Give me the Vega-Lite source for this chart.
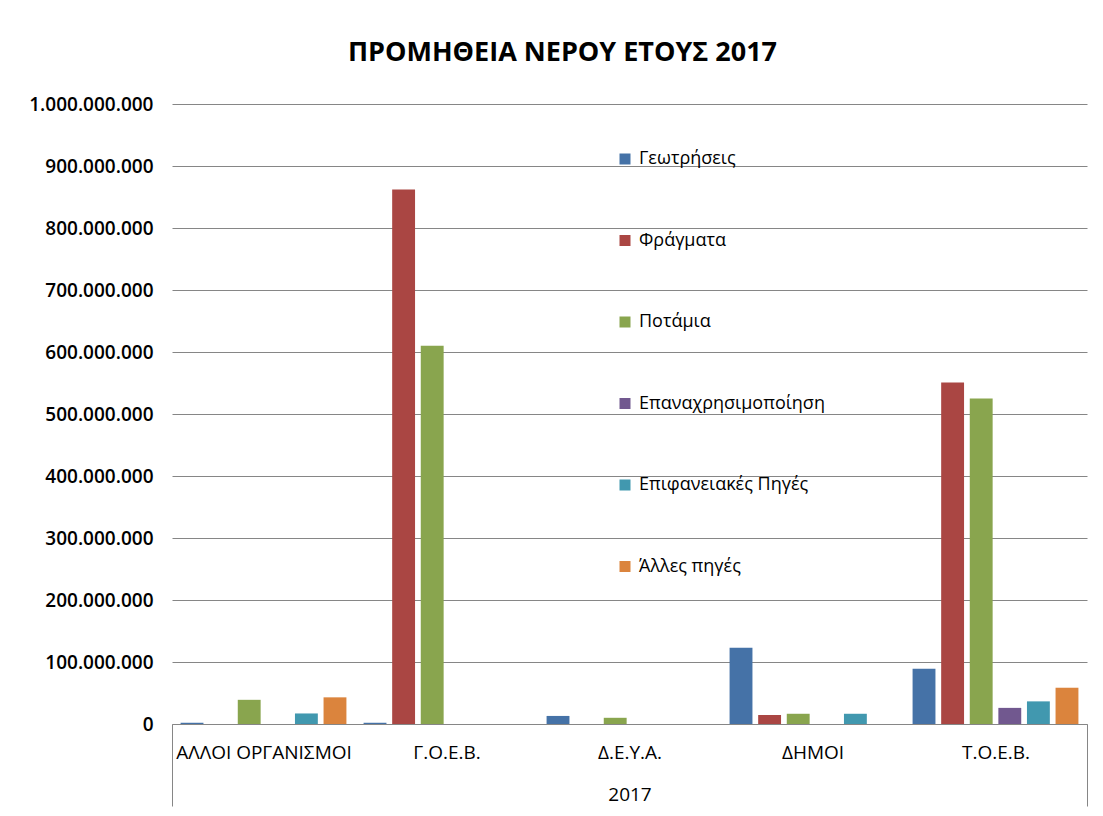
{
  "$schema": "https://vega.github.io/schema/vega-lite/v6.json",
  "width": 915,
  "height": 620,
  "autosize": {"type": "none"},
  "padding": {"left": 172, "top": 104, "right": 16, "bottom": 92},
  "background": "white",
  "title": {
    "text": "ΠΡΟΜΗΘΕΙΑ ΝΕΡΟΥ ΕΤΟΥΣ 2017",
    "font": "Open Sans",
    "fontSize": 27,
    "fontWeight": "bold",
    "color": "#000000",
    "anchor": "middle",
    "frame": "group",
    "dx": -67,
    "offset": 28
  },
  "data": {
    "values": [
      {"category": "ΑΛΛΟΙ ΟΡΓΑΝΙΣΜΟΙ", "source": "Γεωτρήσεις", "value": 2000000},
      {"category": "ΑΛΛΟΙ ΟΡΓΑΝΙΣΜΟΙ", "source": "Φράγματα", "value": 0},
      {"category": "ΑΛΛΟΙ ΟΡΓΑΝΙΣΜΟΙ", "source": "Ποτάμια", "value": 39000000},
      {"category": "ΑΛΛΟΙ ΟΡΓΑΝΙΣΜΟΙ", "source": "Επαναχρησιμοποίηση", "value": 0},
      {"category": "ΑΛΛΟΙ ΟΡΓΑΝΙΣΜΟΙ", "source": "Επιφανειακές Πηγές", "value": 17000000},
      {"category": "ΑΛΛΟΙ ΟΡΓΑΝΙΣΜΟΙ", "source": "Άλλες πηγές", "value": 43000000},
      {"category": "Γ.Ο.Ε.Β.", "source": "Γεωτρήσεις", "value": 2000000},
      {"category": "Γ.Ο.Ε.Β.", "source": "Φράγματα", "value": 862000000},
      {"category": "Γ.Ο.Ε.Β.", "source": "Ποτάμια", "value": 610000000},
      {"category": "Γ.Ο.Ε.Β.", "source": "Επαναχρησιμοποίηση", "value": 0},
      {"category": "Γ.Ο.Ε.Β.", "source": "Επιφανειακές Πηγές", "value": 0},
      {"category": "Γ.Ο.Ε.Β.", "source": "Άλλες πηγές", "value": 0},
      {"category": "Δ.Ε.Υ.Α.", "source": "Γεωτρήσεις", "value": 13000000},
      {"category": "Δ.Ε.Υ.Α.", "source": "Φράγματα", "value": 0},
      {"category": "Δ.Ε.Υ.Α.", "source": "Ποτάμια", "value": 10000000},
      {"category": "Δ.Ε.Υ.Α.", "source": "Επαναχρησιμοποίηση", "value": 0},
      {"category": "Δ.Ε.Υ.Α.", "source": "Επιφανειακές Πηγές", "value": 0},
      {"category": "Δ.Ε.Υ.Α.", "source": "Άλλες πηγές", "value": 0},
      {"category": "ΔΗΜΟΙ", "source": "Γεωτρήσεις", "value": 123000000},
      {"category": "ΔΗΜΟΙ", "source": "Φράγματα", "value": 14500000},
      {"category": "ΔΗΜΟΙ", "source": "Ποτάμια", "value": 16500000},
      {"category": "ΔΗΜΟΙ", "source": "Επαναχρησιμοποίηση", "value": 0},
      {"category": "ΔΗΜΟΙ", "source": "Επιφανειακές Πηγές", "value": 16500000},
      {"category": "ΔΗΜΟΙ", "source": "Άλλες πηγές", "value": 0},
      {"category": "Τ.Ο.Ε.Β.", "source": "Γεωτρήσεις", "value": 89000000},
      {"category": "Τ.Ο.Ε.Β.", "source": "Φράγματα", "value": 551000000},
      {"category": "Τ.Ο.Ε.Β.", "source": "Ποτάμια", "value": 525000000},
      {"category": "Τ.Ο.Ε.Β.", "source": "Επαναχρησιμοποίηση", "value": 26000000},
      {"category": "Τ.Ο.Ε.Β.", "source": "Επιφανειακές Πηγές", "value": 36500000},
      {"category": "Τ.Ο.Ε.Β.", "source": "Άλλες πηγές", "value": 58500000}
    ]
  },
  "mark": {"type": "bar"},
  "encoding": {
    "x": {
      "field": "category",
      "type": "nominal",
      "sort": ["ΑΛΛΟΙ ΟΡΓΑΝΙΣΜΟΙ", "Γ.Ο.Ε.Β.", "Δ.Ε.Υ.Α.", "ΔΗΜΟΙ", "Τ.Ο.Ε.Β."],
      "scale": {"paddingInner": 0, "paddingOuter": 0},
      "axis": {
        "title": "2017",
        "titleFont": "Open Sans",
        "titleFontSize": 19,
        "titleFontWeight": "normal",
        "titleColor": "#000000",
        "titlePadding": -21,
        "labelAngle": 0,
        "labelFont": "Open Sans",
        "labelFontSize": 19,
        "labelColor": "#000000",
        "labelPadding": -63,
        "domainColor": "#868686",
        "domainWidth": 1,
        "tickBand": "extent",
        "tickSize": 82,
        "tickColor": "#868686",
        "tickWidth": 1,
        "tickOpacity": {"condition": {"test": "datum.extra || datum.value === 'Τ.Ο.Ε.Β.'", "value": 1}, "value": 0},
        "grid": false
      }
    },
    "xOffset": {
      "field": "source",
      "type": "nominal",
      "sort": ["Γεωτρήσεις", "Φράγματα", "Ποτάμια", "Επαναχρησιμοποίηση", "Επιφανειακές Πηγές", "Άλλες πηγές"],
      "scale": {"paddingInner": 0.2, "paddingOuter": 0.3}
    },
    "y": {
      "field": "value",
      "type": "quantitative",
      "scale": {"domain": [0, 1000000000], "nice": false},
      "axis": {
        "title": null,
        "values": [0, 100000000, 200000000, 300000000, 400000000, 500000000, 600000000, 700000000, 800000000, 900000000, 1000000000],
        "labelExpr": "replace(format(datum.value, ','), regexp(',', 'g'), '.')",
        "labelFont": "Open Sans",
        "labelFontSize": 19,
        "labelFontWeight": 600,
        "labelColor": "#000000",
        "labelPadding": 19,
        "ticks": false,
        "domain": false,
        "grid": true,
        "gridColor": "#868686",
        "gridWidth": 1
      }
    },
    "color": {
      "field": "source",
      "type": "nominal",
      "sort": ["Γεωτρήσεις", "Φράγματα", "Ποτάμια", "Επαναχρησιμοποίηση", "Επιφανειακές Πηγές", "Άλλες πηγές"],
      "scale": {
        "domain": ["Γεωτρήσεις", "Φράγματα", "Ποτάμια", "Επαναχρησιμοποίηση", "Επιφανειακές Πηγές", "Άλλες πηγές"],
        "range": ["#4572A7", "#AA4643", "#89A54E", "#71588F", "#4198AF", "#DB843D"]
      },
      "legend": {
        "title": null,
        "orient": "none",
        "legendX": 444,
        "legendY": 46,
        "symbolType": "square",
        "symbolSize": 121,
        "symbolStrokeWidth": 0,
        "labelFont": "Open Sans",
        "labelFontSize": 18,
        "labelColor": "#000000",
        "labelOffset": 5,
        "rowPadding": 63.5,
        "labelLimit": 400
      }
    }
  },
  "config": {
    "view": {"stroke": null}
  }
}
